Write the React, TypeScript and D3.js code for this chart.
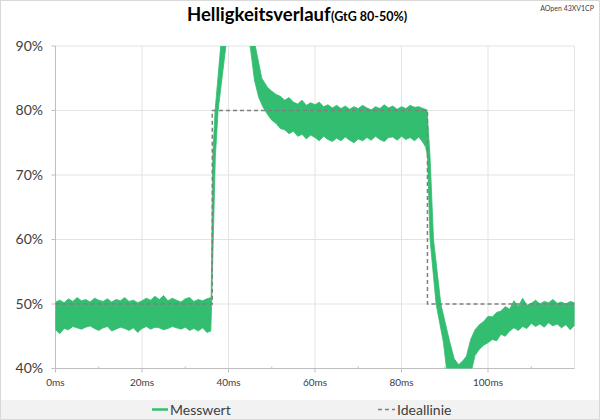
import React from "react";
import * as d3 from "d3";

const W = 600;
const H = 420;

// Measured curve (Messwert): upper and lower envelope of the noisy band
const upperT = [
  0, 1, 2, 3, 4, 5, 6, 7, 8, 9, 10, 11, 12, 13, 14, 15, 16, 17, 18, 19, 20, 21, 22, 23, 24, 25, 26, 27, 28, 29, 30, 31, 32, 33, 34, 35, 36.0,
  36.35, 36.9, 38.2, 39.5, 42, 44.5, 46.2, 47.7, 49, 50, 51, 52, 53, 54, 55, 56, 57, 58, 59, 60, 61, 62, 63, 64, 65, 66, 67, 68, 69, 70,
  71, 72, 73, 74, 75, 76, 77, 78, 79, 80, 81, 82, 83, 84, 85, 85.9, 86.6, 87.4, 89.1, 91.2, 92.2, 93.2, 94.2, 95.0, 96, 97, 98, 99, 100,
  101, 102, 103, 104, 105, 106, 107, 108, 109, 110, 111, 112, 113, 114, 115, 116, 117, 118, 119, 120,
];
const upperV = [
  50.3, 50.6, 50.2, 50.8, 50.4, 51.0, 50.5, 50.7, 50.3, 50.9, 50.6, 50.4, 50.8, 50.3, 50.7, 50.5, 51.0, 50.4, 50.6, 50.2, 50.5, 50.9, 50.6, 51.2, 50.7, 51.3, 50.5, 50.9, 50.6, 50.3, 50.8, 51.0, 50.4, 50.7, 50.5, 50.8, 51.0,
  72.7, 80, 90, 95, 98, 95, 90, 85, 83.6, 83.0, 82.5, 82.2, 81.6, 82.0, 81.3, 81.0, 81.6, 80.8, 81.2, 80.9, 81.3, 80.6, 80.9, 80.4, 80.8, 80.3, 80.7, 80.2, 80.6, 80.3,
  80.8, 80.4, 80.1, 80.6, 80.3, 80.9, 80.4, 80.7, 80.2, 80.6, 80.3, 80.8, 80.5, 80.6, 80.3, 80.1, 72.9, 60, 50, 44, 41.5, 40.6, 41.2, 41.9, 44.5, 46, 46.8, 47.3, 48.1,
  48.0, 48.7, 48.9, 49.6, 49.2, 50.5, 49.6, 50.9, 49.8, 50.1, 50.6, 50.0, 50.4, 50.2, 50.7, 50.1, 50.3, 50.0, 50.4, 50.2,
];
const lowerT = [
  0, 1, 2, 3, 4, 5, 6, 7, 8, 9, 10, 11, 12, 13, 14, 15, 16, 17, 18, 19, 20, 21, 22, 23, 24, 25, 26, 27, 28, 29, 30, 31, 32, 33, 34, 35, 35.9,
  36.1, 36.95, 37.6, 39.4, 41, 43, 45, 46, 47, 48, 49, 50, 51, 52, 53, 54, 55, 56, 57, 58, 59, 60, 61, 62, 63, 64, 65, 66, 67, 68, 69, 70,
  71, 72, 73, 74, 75, 76, 77, 78, 79, 80, 81, 82, 83, 84, 85, 85.6, 86.0, 86.6, 88, 89.7, 90.4, 91.5, 93.5, 95, 96.3, 97, 98, 99, 100,
  101, 102, 103, 104, 105, 106, 107, 108, 109, 110, 111, 112, 113, 114, 115, 116, 117, 118, 119, 120,
];
const lowerV = [
  46.0, 45.4, 46.2, 46.0, 46.5, 46.3, 46.1, 46.4, 46.6, 46.2, 45.9, 46.3, 46.5, 45.8, 46.1, 46.4, 46.2, 45.9, 46.3, 45.6, 46.2, 46.5, 46.1, 46.4, 46.3, 46.0, 46.2, 46.5, 46.3, 46.1, 46.4, 45.9, 46.2, 45.8, 46.3, 45.6, 45.8,
  50, 72.7, 80, 90, 95, 95, 90, 84.7, 82, 80.5, 79.4, 78.5, 78.0, 77.2, 77.0, 76.4, 76.8, 76.0, 76.3, 75.6, 76.2, 75.8, 75.3, 76.0, 75.5, 75.2, 75.7, 75.3, 75.9, 75.4, 75.0, 75.6,
  75.3, 75.8, 75.4, 76.0, 75.5, 75.2, 75.8, 75.9, 75.4, 76.0, 75.5, 75.8, 75.3, 75.9, 75.0, 74.3, 72.9, 60, 50, 44, 40, 37, 36, 37.5, 40, 42, 43, 43.6, 44.0,
  44.5, 44.3, 45.3, 45.0, 45.8, 46.3, 45.9, 46.5, 46.2, 47.0, 46.5, 46.9, 46.4, 47.1, 46.6, 46.9, 46.3, 46.8, 46.0, 46.7,
];

// Ideal line (Ideallinie)
const idealT = [0, 36.25, 36.25, 86, 86, 120];
const idealV = [50, 50, 80, 80, 50, 50];

const yTicks = [40, 50, 60, 70, 80, 90];
const xTicks = [0, 20, 40, 60, 80, 100];
const xGrid = [20, 40, 60, 80, 100, 120];
const xMinor = [10, 30, 50, 70, 90, 110];

const titleMain = "Helligkeitsverlauf";
const titleSub = "(GtG 80-50%)";
const deviceLabel = "AOpen 43XV1CP";
const seriesNames = ["Messwert", "Ideallinie"];

const GREEN = "#33bd70";
const FONT = "Lato, 'Open Sans', sans-serif";

export default function App() {
  const x = d3.scaleLinear().domain([0, 120]).range([55.5, 574.5]);
  const y = d3.scaleLinear().domain([40, 90]).range([368.5, 46]);

  const upperPts: [number, number][] = upperT.map((t, i) => [x(t), y(upperV[i])]);
  const lowerPts: [number, number][] = lowerT.map((t, i) => [x(t), y(lowerV[i])]);
  const bandPath = d3.line()([...upperPts, ...lowerPts.reverse()]) + "Z";
  const idealPath = d3.line()(idealT.map((t, i) => [x(t), y(idealV[i])]) as [number, number][]) || "";

  const [x0, x1] = x.range();
  const [yb, yt] = y.range();

  return (
    <svg width={W} height={H} style={{ position: "absolute", left: 0, top: 0, background: "#fff" }}>
      <defs>
        <clipPath id="plotclip">
          <rect x={x0} y={yt} width={x1 - x0} height={yb - yt} />
        </clipPath>
      </defs>
      <rect x={0.5} y={0.5} width={W - 1} height={H - 1} fill="#fff" stroke="#d9d9d9" />
      <rect x={1} y={400} width={W - 2} height={19} fill="#f2f2f2" />

      {/* grid */}
      {yTicks.filter((v) => v > 40).map((v) => (
        <line key={"hy" + v} x1={x0} x2={x1} y1={y(v)} y2={y(v)} stroke="#e3e3e3" strokeWidth={1} />
      ))}
      {xGrid.map((v) => (
        <line key={"gx" + v} x1={x(v)} x2={x(v)} y1={yt} y2={yb} stroke="#e3e3e3" strokeWidth={1} />
      ))}

      {/* axes */}
      <line x1={x0} x2={x0} y1={yt} y2={yb} stroke="#bfbfbf" />
      <line x1={x0} x2={x1} y1={yb} y2={yb} stroke="#bfbfbf" />
      {yTicks.map((v) => (
        <line key={"ty" + v} x1={x0 - 4} x2={x0} y1={y(v)} y2={y(v)} stroke="#bfbfbf" />
      ))}
      {xTicks.map((v) => (
        <line key={"tx" + v} x1={x(v)} x2={x(v)} y1={yb} y2={yb + 4} stroke="#bfbfbf" />
      ))}
      {xMinor.map((v) => (
        <line key={"mx" + v} x1={x(v)} x2={x(v)} y1={yb - 2} y2={yb} stroke="#bfbfbf" />
      ))}

      {/* data */}
      <g clipPath="url(#plotclip)">
        <path d={bandPath} fill={GREEN} stroke={GREEN} strokeWidth={0.8} strokeLinejoin="miter" />
        <path d={idealPath} fill="none" stroke="#7f7f7f" strokeWidth={1.5} strokeDasharray="4,3" />
      </g>

      {/* tick labels */}
      {yTicks.map((v) => (
        <text key={"ly" + v} x={43} y={y(v)} dy="0.35em" textAnchor="end" fontFamily={FONT} fontSize={14} fill="#404040">
          {v + "%"}
        </text>
      ))}
      {xTicks.map((v) => (
        <text key={"lx" + v} x={x(v)} y={386} textAnchor="middle" fontFamily={FONT} fontSize={10} fill="#404040">
          {v + "ms"}
        </text>
      ))}

      {/* title */}
      <text x={187} y={21} fontFamily={FONT} fontWeight={700} fontSize={18.5} fill="#000">
        {titleMain}
      </text>
      <text x={331} y={21} fontFamily={FONT} fontWeight={700} fontSize={12.5} fill="#000">
        {titleSub}
      </text>
      <text x={594} y={11} textAnchor="end" fontFamily={FONT} fontSize={7} fill="#404040">
        {deviceLabel}
      </text>

      {/* legend */}
      <line x1={152} x2={168} y1={409.5} y2={409.5} stroke={GREEN} strokeWidth={2.5} />
      <text x={170} y={414.5} fontFamily={FONT} fontSize={14} fill="#404040">
        {seriesNames[0]}
      </text>
      <line x1={378} x2={395} y1={409.5} y2={409.5} stroke="#7f7f7f" strokeWidth={1.5} strokeDasharray="4,3" />
      <text x={397} y={414.5} fontFamily={FONT} fontSize={14} fill="#404040">
        {seriesNames[1]}
      </text>
    </svg>
  );
}
